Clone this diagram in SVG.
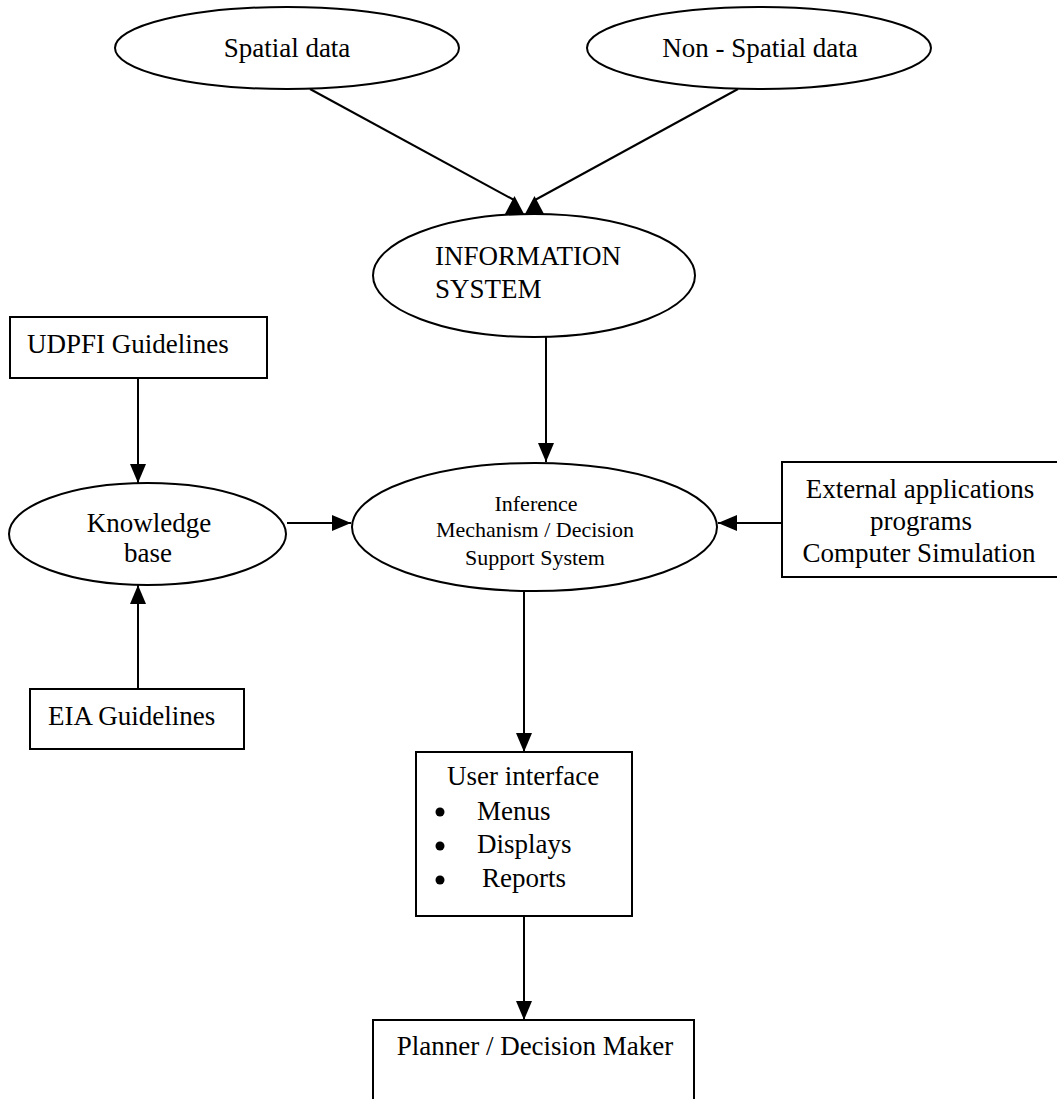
<svg xmlns="http://www.w3.org/2000/svg" width="1057" height="1099" viewBox="0 0 1057 1099">
<style>
  .shape { fill: #fff; stroke: #000; stroke-width: 2; }
  .t { font-family: "Liberation Serif", "Times New Roman", serif; font-size: 27px; fill: #000; }
  .ts { font-family: "Liberation Serif", "Times New Roman", serif; font-size: 22px; fill: #000; }
  .c { text-anchor: middle; }
  .conn { stroke: #000; stroke-width: 2; fill: none; }
  .a { marker-end: url(#arrow); }
  .head { fill: #000; stroke: none; }
</style>
<defs>
  <marker id="arrow" markerUnits="userSpaceOnUse" markerWidth="19" markerHeight="16" refX="19" refY="8" orient="auto">
    <path d="M0,0 L19,8 L0,16 z" fill="#000"/>
  </marker>
</defs>

<g id="connectors">
  <line class="conn" x1="310" y1="89" x2="514" y2="200"/>
  <polygon class="head" points="505,214 514.5,196 524,214"/>
  <line class="conn" x1="738" y1="89" x2="535" y2="200"/>
  <polygon class="head" points="525,214 534.5,196 544,214"/>
  <line class="conn a" x1="546" y1="337" x2="546" y2="462"/>
  <line class="conn a" x1="138" y1="378" x2="138" y2="483"/>
  <line class="conn a" x1="138" y1="689" x2="138" y2="585"/>
  <line class="conn a" x1="287" y1="523" x2="351" y2="523"/>
  <line class="conn a" x1="782" y1="523" x2="718" y2="523"/>
  <line class="conn a" x1="524" y1="590" x2="524" y2="752"/>
  <line class="conn a" x1="524" y1="916" x2="524" y2="1020"/>
</g>

<g id="spatial-data">
  <ellipse class="shape" cx="287" cy="48" rx="172" ry="41"/>
  <text class="t c" x="287" y="57">Spatial data</text>
</g>

<g id="non-spatial-data">
  <ellipse class="shape" cx="759" cy="48" rx="172" ry="41"/>
  <text class="t c" x="760" y="57">Non - Spatial data</text>
</g>

<g id="information-system">
  <ellipse class="shape" cx="534" cy="275.5" rx="161" ry="61.5"/>
  <text class="t" x="435" y="265">INFORMATION</text>
  <text class="t" x="435" y="298">SYSTEM</text>
</g>

<g id="udpfi-guidelines">
  <rect class="shape" x="10" y="317" width="257" height="61"/>
  <text class="t" x="27" y="353">UDPFI Guidelines</text>
</g>

<g id="knowledge-base">
  <ellipse class="shape" cx="147.5" cy="534" rx="138.5" ry="51"/>
  <text class="t c" x="149" y="532">Knowledge</text>
  <text class="t c" x="148" y="562">base</text>
</g>

<g id="eia-guidelines">
  <rect class="shape" x="30" y="689" width="214" height="60"/>
  <text class="t" x="48" y="725">EIA Guidelines</text>
</g>

<g id="inference-mechanism">
  <ellipse class="shape" cx="534.5" cy="527" rx="182.5" ry="64"/>
  <text class="ts c" x="536" y="511">Inference</text>
  <text class="ts c" x="535" y="537">Mechanism / Decision</text>
  <text class="ts c" x="535" y="565">Support System</text>
</g>

<g id="external-applications">
  <rect class="shape" x="782" y="462" width="285" height="115"/>
  <text class="t c" x="920" y="498">External applications</text>
  <text class="t c" x="921" y="530">programs</text>
  <text class="t c" x="919" y="562">Computer Simulation</text>
</g>

<g id="user-interface">
  <rect class="shape" x="416" y="752" width="216" height="164"/>
  <text class="t" x="447" y="785">User interface</text>
  <circle cx="440" cy="812" r="4.5" fill="#000"/>
  <text class="t" x="477" y="820">Menus</text>
  <circle cx="440" cy="846" r="4.5" fill="#000"/>
  <text class="t" x="477" y="853">Displays</text>
  <circle cx="440" cy="880" r="4.5" fill="#000"/>
  <text class="t" x="482" y="887">Reports</text>
</g>

<g id="planner-decision-maker">
  <rect class="shape" x="373" y="1020" width="321" height="100"/>
  <text class="t c" x="535" y="1055">Planner / Decision Maker</text>
</g>
</svg>
